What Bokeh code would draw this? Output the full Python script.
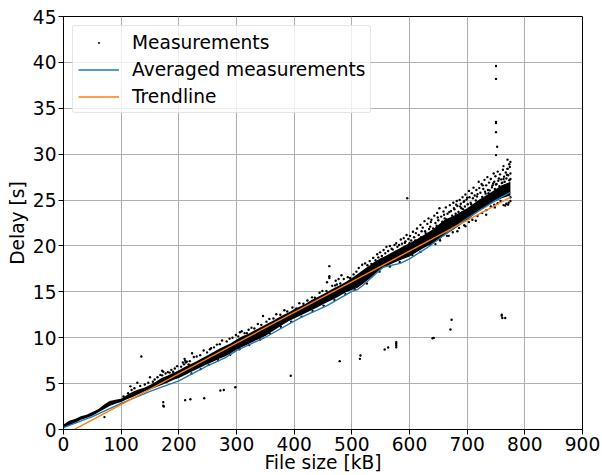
from bokeh.plotting import figure
from bokeh.models import Legend, LegendItem, FixedTicker, Range1d
from bokeh.embed import file_html
from bokeh.resources import INLINE

# Averaged measurements
avg_x = [0, 50, 100, 150, 200, 250, 280, 300, 350, 400, 411, 457, 500, 510, 520, 540, 555, 584, 600, 628, 650, 677, 700, 750, 775]
avg_y = [0.2, 1.4, 2.85, 4.15, 5.3, 6.95, 7.8, 8.6, 10.05, 11.8, 12.2, 13.5, 15.05, 15.25, 15.75, 16.9, 17.7, 18.1, 18.6, 19.7, 20.7, 22.0, 23.0, 25.0, 25.85]

# Trendline
trend_x = [0, 775]
trend_y = [-0.62, 25.3]

# Saturated core of the measurement cloud, read as an envelope
core_x = [0,10,20,30,40,50,60,70,80,90,100,110,120,130,140,150,160,170,180,190,200,210,220,230,240,250,260,270,280,290,300,310,320,330,340,350,360,370,380,390,400,410,420,430,440,450,460,470,480,490,500,510,520,530,540,550,560,570,580,590,600,620,640,660,680,700,720,740,760,775]
core_hi = [.55,.95,1.15,1.45,1.6,1.9,2.2,2.7,3.1,3.25,3.35,3.75,4.1,4.35,4.55,4.85,5.2,5.6,5.85,6.15,6.45,6.8,7.1,7.4,7.75,8.1,8.45,8.8,9.1,9.4,9.8,10.15,10.4,10.75,11.1,11.4,11.75,12.1,12.45,12.75,13.1,13.4,13.7,14.1,14.4,14.75,15.1,15.45,15.75,16.1,16.5,16.95,17.4,17.85,18.3,18.65,18.95,19.3,19.65,20.0,20.3,21.0,21.8,22.8,23.4,24.1,25.0,25.8,26.6,27.0]
core_lo = [.2,.45,.7,1.05,1.25,1.5,1.85,2.2,2.55,2.8,3.0,3.3,3.55,3.85,4.15,4.35,4.6,4.85,5.1,5.4,5.6,5.9,6.25,6.55,6.85,7.15,7.4,7.7,7.95,8.3,8.7,9.0,9.3,9.6,9.9,10.2,10.6,11.0,11.4,11.8,12.1,12.4,12.7,13.0,13.3,13.65,13.95,14.25,14.6,14.95,15.2,15.45,15.9,16.4,16.95,17.45,17.8,18.1,18.35,18.6,18.85,19.6,20.3,21.1,21.95,22.8,23.85,24.6,25.2,25.5]

# Stray measurements
stray_x = [135,173,173,174,211,220,244,272,278,298,394,71,479,515,514,557,563,577,577,577,577,640,642,671,673,760,761,766,760,
           750,750,750,750,750,752,750,770,775,773,770,763,596,
           461,461,461,457,482,477,480,474,472,150,116,128,171,171,173,184,190,211,209,217,346,256,223,210,212,306,321,318]
stray_y = [7.96,2.98,2.6,2.5,3.2,3.3,3.4,4.25,4.3,4.6,5.85,1.35,7.45,8.07,7.7,8.72,8.94,9.5,9.35,9.15,8.95,9.95,9.98,10.9,11.96,12.5,12.15,12.15,12.4,
           39.6,38.2,33.5,33.4,32.4,30.8,29.9,29.4,29.15,28.9,28.4,28.7,25.2,
           17.8,16.7,16.5,16.05,16.8,16.4,15.9,15.8,16.2,5.7,4.7,5.1,6.4,5.9,6.3,6.2,6.3,7.5,7.1,7.1,12.36,8.87,8.3,7.7,7.3,10.6,10.87,10.5]

# Fringe of the band, small and medium files
fringe_x = [104,112,118,123,133,141,147,155,158,163,168,177,181,187,193,197,204,207,214,219,226,231,237,243,249,254,261,266,271,275,283,288,293,299,303,309,314,326,331,337,343,352,357,364,369,376,383,388,397,404,409,416,423,431,436,444,449,456,466,471,486,493,497,503,508]
fringe_y = [3.6,3.95,4.3,4.5,4.75,4.9,5.1,5.2,5.45,5.7,5.95,6.1,6.25,6.5,6.65,6.9,6.85,7.3,7.4,7.45,7.9,7.95,8.1,8.6,8.4,8.75,8.95,9.25,9.3,9.7,9.6,9.9,10.0,10.3,10.15,10.7,10.5,11.1,11.0,11.5,11.4,11.75,12.05,12.1,12.55,12.5,13.0,12.85,13.3,13.2,13.75,13.7,14.05,14.4,14.35,14.9,15.1,15.1,15.65,15.7,16.4,16.6,16.5,16.9,17.2]
under_x = [222,238,252,268,289,305,322,341,358,377,395,413,432,451,470,489,505,526,548,566,583,605,619,636,652,668,683,697,715,733,748,766,771]
under_y = [6.1,6.6,7.05,7.55,8.15,8.75,9.2,9.8,10.45,11.2,11.75,12.3,12.9,13.5,14.1,14.75,15.3,15.9,17.2,17.75,18.25,19.0,19.35,20.1,20.75,21.1,21.6,22.15,22.75,23.4,24.2,24.4,24.5]

# Scattered measurements at the large-file end
cloud_x = [512,518,523,527,531,534,537,541,544,546,549,552,555,558,560,563,566,569,571,574,577,579,582,585,587,590,593,595,598,601,603,606,608,611,613,616,619,621,623,626,628,631,633,636,638,641,643,645,648,650,652,655,657,659,661,663,666,668,670,672,674,676,678,680,682,683,685,687,689,690,692,694,696,697,699,701,703,704,706,708,710,711,713,715,716,718,720,721,723,725,726,728,730,731,733,735,736,738,740,741,743,745,746,748,749,751,753,754,756,757,759,761,762,764,765,767,768,770,771,773,774,
           620,627,634,637,644,649,654,660,664,669,673,677,681,684,688,693,695,700,702,707,712,717,722,727,729,734,737,742,744,747,752,755,758,763,766,769,772,775,
           530,543,551,567,578,592,600,610,617,625,632,639,647,656,662,671,679,686,691,698,705,709,714,719,724,732,739,750,760,775,
           645,653,665,675,686,695,703,709,718,726,733,741,747,753,758,763,768,772,775,775]
cloud_y = [17.6,17.95,18.1,17.9,18.35,18.05,18.7,18.45,19.1,18.75,19.3,18.9,19.55,19.2,19.9,19.45,20.0,19.7,19.6,20.1,20.3,19.9,20.1,20.7,20.25,20.85,20.5,21.2,20.75,21.1,20.6,21.55,20.95,21.4,21.9,21.2,22.3,21.6,22.0,22.7,21.4,22.4,23.0,22.1,22.85,21.9,23.3,22.5,23.6,22.8,24.1,23.2,22.65,23.75,23.0,24.2,23.5,22.9,24.45,23.8,23.3,24.7,24.0,23.5,24.9,24.35,23.7,25.0,24.6,24.1,25.3,24.8,24.3,25.6,25.05,24.55,26.0,25.3,24.7,25.75,25.2,26.35,25.5,24.95,26.1,25.65,27.0,26.3,25.8,26.75,25.35,26.2,27.2,25.9,26.6,27.5,26.1,26.9,25.5,27.3,26.4,26.8,27.9,26.2,27.6,26.75,28.1,27.1,26.5,27.8,27.25,26.9,28.3,27.55,27.0,28.0,27.35,28.4,27.7,27.15,28.6,
           20.95,21.6,21.85,22.6,21.7,23.1,22.2,23.4,22.9,23.7,22.7,24.1,24.5,23.1,24.3,24.0,24.9,25.25,23.7,24.55,24.15,25.4,24.9,26.6,24.75,25.2,25.75,25.3,26.6,27.0,26.1,27.35,26.25,27.3,26.6,27.75,26.5,27.9,
           17.4,18.0,18.5,18.9,19.4,20.35,20.3,20.6,20.45,21.0,21.3,21.2,22.2,21.75,21.95,22.6,22.9,23.1,23.65,23.3,23.9,24.0,24.4,24.8,25.0,25.7,26.05,26.7,26.85,27.3,
           20.2,20.6,21.1,21.5,21.95,22.25,22.6,22.85,23.25,23.6,23.9,24.3,24.5,24.65,24.9,24.45,24.6,24.7,24.9,25.3]

x_ticks = [0,100,200,300,400,500,600,700,800,900]
y_ticks = [0,5,10,15,20,25,30,35,40,45]

p = figure(width=602, height=475, output_backend="svg", toolbar_location=None,
           x_range=Range1d(0, 900), y_range=Range1d(0, 45),
           min_border_left=63, min_border_right=20, min_border_top=16, min_border_bottom=46,
           x_axis_label="File size [kB]", y_axis_label="Delay [s]")
p.background_fill_color = "white"
p.outline_line_color = "black"
p.outline_line_width = 1

for ax, ticks in ((p.xaxis[0], x_ticks), (p.yaxis[0], y_ticks)):
    ax.ticker = FixedTicker(ticks=ticks)
    ax.minor_tick_line_color = None
    ax.major_tick_in = 0
    ax.major_tick_out = 5
    ax.major_tick_line_color = "black"
    ax.axis_line_color = "black"
    ax.major_label_text_font = "DejaVu Sans"
    ax.major_label_text_font_size = "18.6px"
    ax.major_label_text_color = "black"
    ax.major_label_standoff = 2
    ax.axis_label_text_font = "DejaVu Sans"
    ax.axis_label_text_font_size = "18.6px"
    ax.axis_label_text_font_style = "normal"
    ax.axis_label_text_color = "black"
p.xaxis[0].axis_label_standoff = -2
p.yaxis[0].axis_label_standoff = 2

p.grid.grid_line_color = "#b0b0b0"
p.grid.grid_line_width = 1.1

all_x = stray_x + fringe_x + under_x + cloud_x
all_y = stray_y + fringe_y + under_y + cloud_y

p.varea(x=core_x, y1=core_lo, y2=core_hi, fill_color="black")
pts = p.scatter(x=all_x, y=all_y, size=2.4, color="black", line_width=0)
avg = p.line(avg_x, avg_y, line_color="#1f77b4", line_width=1.4)
tr = p.line(trend_x, trend_y, line_color="#ff7f0e", line_width=1.4)

leg = Legend(items=[LegendItem(label="Measurements", renderers=[pts]),
                    LegendItem(label="Averaged measurements", renderers=[avg]),
                    LegendItem(label="Trendline", renderers=[tr])],
             location="top_left", margin=9)
leg.label_text_font = "DejaVu Sans"
leg.label_text_font_size = "18.6px"
leg.label_text_color = "black"
leg.glyph_width = 41
leg.glyph_height = 5
leg.label_height = 22
leg.label_standoff = 13
leg.spacing = 5
leg.padding = 5
leg.border_line_color = "#cccccc"
leg.border_line_width = 1
leg.background_fill_alpha = 0.8
try:
    leg.border_radius = 3
except Exception:
    pass
p.add_layout(leg)

open("out.html", "w").write(file_html(p, INLINE))
